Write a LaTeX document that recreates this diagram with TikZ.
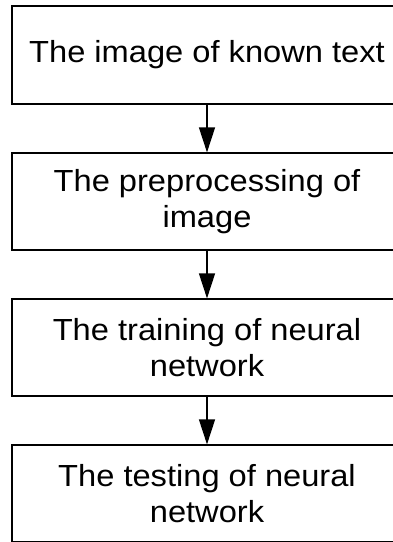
\documentclass[tikz,border=0pt]{standalone}
\usepackage{fontspec}
\setmainfont{Liberation Sans}[FakeStretch=1.07]
\usetikzlibrary{arrows.meta}
\tikzset{
  stagebox/.style={draw,line width=1.2pt,minimum width=390pt,inner sep=0pt,
    align=center,font=\fontsize{30.5}{36}\selectfont},
  flowarrow/.style={line width=1.2pt,-{Triangle[length=25pt,width=16pt]}}
}
\begin{document}
\begin{tikzpicture}[x=1pt,y=-1pt]
  \path[use as bounding box,clip] (0,0) rectangle (393,542);
  \node[stagebox,minimum height=98pt] (img) at (207,55) {The image of known text};
  \node[stagebox,minimum height=97pt] (pre) at (207,201.5) {The preprocessing of\\image};
  \node[stagebox,minimum height=97pt] (train) at (207,347.5) {The training of neural\\network};
  \node[stagebox,minimum height=97pt] (test) at (207,493.5) {The testing of neural\\network};
  \draw[flowarrow] (img) -- (pre);
  \draw[flowarrow] (pre) -- (train);
  \draw[flowarrow] (train) -- (test);
\end{tikzpicture}
\end{document}
